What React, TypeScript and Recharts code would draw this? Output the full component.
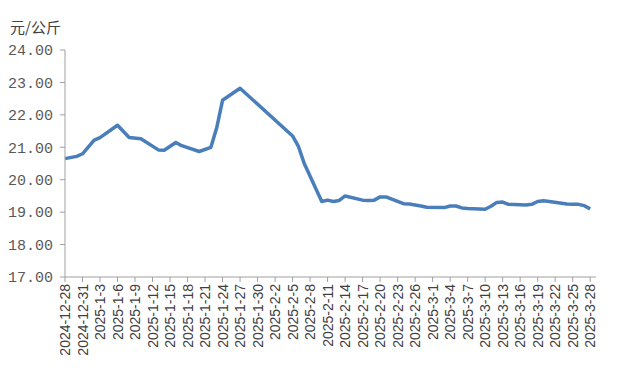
import React from "react";
import { LineChart, Line, XAxis, YAxis } from "recharts";

const startDate = "2024-12-28";

const tickLabels = [
  "2024-12-28", "2024-12-31", "2025-1-3", "2025-1-6", "2025-1-9", "2025-1-12",
  "2025-1-15", "2025-1-18", "2025-1-21", "2025-1-24", "2025-1-27", "2025-1-30",
  "2025-2-2", "2025-2-5", "2025-2-8", "2025-2-11", "2025-2-14", "2025-2-17",
  "2025-2-20", "2025-2-23", "2025-2-26", "2025-3-1", "2025-3-4", "2025-3-7",
  "2025-3-10", "2025-3-13", "2025-3-16", "2025-3-19", "2025-3-22", "2025-3-25",
  "2025-3-28",
];

const dates = [
  "2024-12-28", "2024-12-30", "2024-12-31", "2025-1-2", "2025-1-3", "2025-1-6",
  "2025-1-8", "2025-1-10", "2025-1-13", "2025-1-14", "2025-1-16", "2025-1-17",
  "2025-1-20", "2025-1-22", "2025-1-23", "2025-1-24", "2025-1-27", "2025-2-5",
  "2025-2-6", "2025-2-7", "2025-2-10", "2025-2-11", "2025-2-12", "2025-2-13",
  "2025-2-14", "2025-2-17", "2025-2-18", "2025-2-19", "2025-2-20", "2025-2-21",
  "2025-2-24", "2025-2-25", "2025-2-26", "2025-2-27", "2025-2-28", "2025-3-3",
  "2025-3-4", "2025-3-5", "2025-3-6", "2025-3-7", "2025-3-10", "2025-3-11",
  "2025-3-12", "2025-3-13", "2025-3-14", "2025-3-17", "2025-3-18", "2025-3-19",
  "2025-3-20", "2025-3-21", "2025-3-24", "2025-3-25", "2025-3-26", "2025-3-27",
  "2025-3-28",
];

const prices = [
  20.65, 20.72, 20.8, 21.22, 21.3, 21.68,
  21.3, 21.26, 20.92, 20.91, 21.15, 21.05,
  20.87, 21.0, 21.6, 22.45, 22.82, 21.35,
  21.03, 20.5, 19.33, 19.37, 19.33, 19.36,
  19.5, 19.37, 19.36, 19.37, 19.47, 19.47,
  19.26, 19.25, 19.22, 19.19, 19.15, 19.14,
  19.19, 19.19, 19.13, 19.11, 19.09, 19.18,
  19.3, 19.31, 19.24, 19.22, 19.24, 19.33,
  19.35, 19.33, 19.25, 19.24, 19.24, 19.2,
  19.1,
];

const yTicks = [17, 18, 19, 20, 21, 22, 23, 24];

const toDay = (s: string) => {
  const [y, m, d] = s.split("-").map(Number);
  const [y0, m0, d0] = startDate.split("-").map(Number);
  return Math.round((Date.UTC(y, m - 1, d) - Date.UTC(y0, m0 - 1, d0)) / 86400000);
};

const data = dates.map((d, i) => ({ day: toDay(d), price: prices[i] }));
const xTicks = tickLabels.map(toDay);
const labelByDay: Record<number, string> = {};
tickLabels.forEach((t) => (labelByDay[toDay(t)] = t));

function DateTick({ x, y, payload }: any) {
  return (
    <g transform={`translate(${x},${y})`}>
      <text
        transform="rotate(-90)"
        textAnchor="end"
        dy="0.36em"
        fill="#404040"
        fontSize={14}
        fontFamily="'Liberation Sans', Arial, sans-serif"
      >
        {labelByDay[payload.value]}
      </text>
    </g>
  );
}

export default function App() {
  return (
    <div style={{ position: "absolute", left: 0, top: 0, width: 627, height: 372, background: "#fff" }}>
      <div
        style={{
          position: "absolute",
          left: 10,
          top: 17,
          fontSize: 15,
          color: "#404040",
          fontFamily: "'Noto Sans CJK SC', sans-serif",
          lineHeight: "20px",
        }}
      >
        元/公斤
      </div>
      <LineChart
        width={627}
        height={372}
        data={data}
        margin={{ top: 50, right: 31, bottom: 5, left: 0 }}
      >
        <XAxis
          dataKey="day"
          type="number"
          domain={[0, 91]}
          ticks={xTicks}
          interval={0}
          height={90}
          tickSize={5}
          tickMargin={2}
          stroke="#a0a0a0"
          tick={<DateTick />}
        />
        <YAxis
          domain={[17, 24]}
          ticks={yTicks}
          width={65}
          tickSize={5}
          tickMargin={7}
          stroke="#a0a0a0"
          tickFormatter={(v: number) => v.toFixed(2)}
          tick={{ fill: "#595959", fontSize: 15, fontFamily: "'Liberation Mono', monospace" }}
        />
        <Line
          type="linear"
          dataKey="price"
          stroke="#4a7ebb"
          strokeWidth={3.5}
          strokeLinejoin="round"
          dot={false}
          isAnimationActive={false}
        />
      </LineChart>
    </div>
  );
}
